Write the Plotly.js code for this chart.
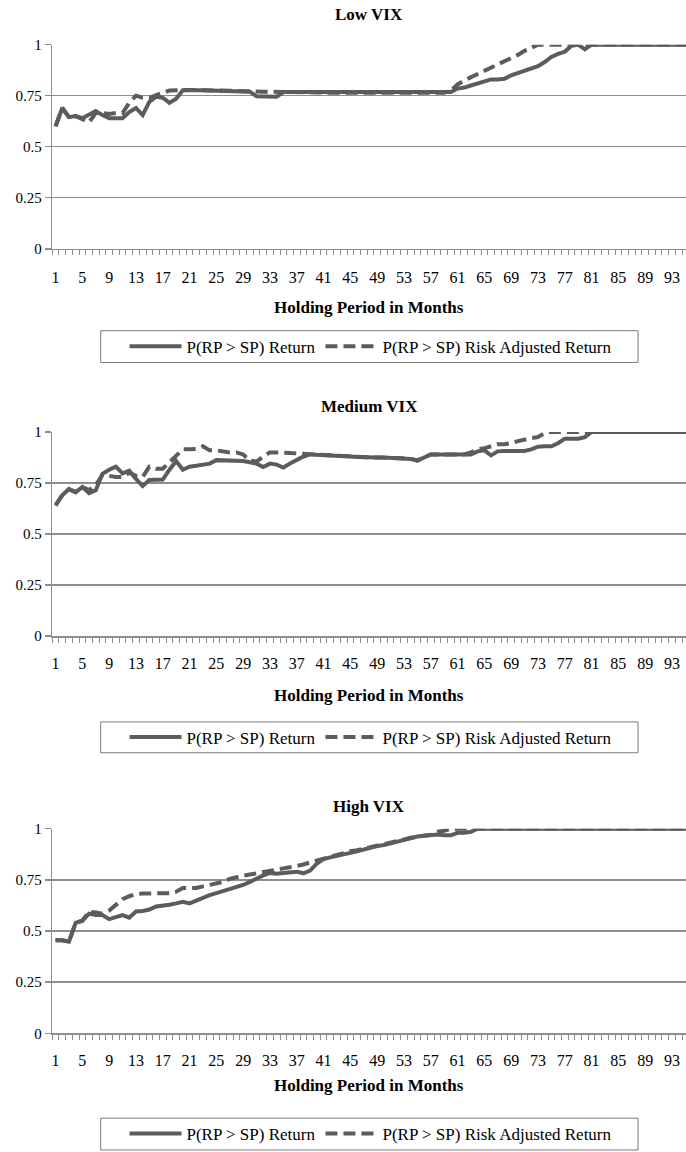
<!DOCTYPE html>
<html><head><meta charset="utf-8">
<script src="https://cdn.plot.ly/plotly-3.0.1.min.js"></script>
<style>body{margin:0;background:#fff}#chart{width:686px;height:1152px}</style>
</head><body><div id="chart"></div>
<script>
const months = [1,2,3,4,5,6,7,8,9,10,11,12,13,14,15,16,17,18,19,20,21,22,23,24,25,26,27,28,29,30,31,32,33,34,35,36,37,38,39,40,41,42,43,44,45,46,47,48,49,50,51,52,53,54,55,56,57,58,59,60,61,62,63,64,65,66,67,68,69,70,71,72,73,74,75,76,77,78,79,80,81,82,83,84,85,86,87,88,89,90,91,92,93,94,95,96];
const tickLabels = [1,5,9,13,17,21,25,29,33,37,41,45,49,53,57,61,65,69,73,77,81,85,89,93];
const panelTitles = ["Low VIX","Medium VIX","High VIX"];
const seriesNames = ["P(RP > SP) Return","P(RP > SP) Risk Adjusted Return"];

const lowRet = [0.60,0.69,0.645,0.65,0.64,0.66,0.675,0.655,0.64,0.64,0.64,0.67,0.69,0.655,0.72,0.745,0.74,0.715,0.735,0.777,
0.778,0.778,0.777,0.776,0.775,0.775,0.775,0.774,0.772,0.77,0.747,0.745,0.745,0.745,0.768,0.768,0.767,0.767,0.766,0.766,
0.765,0.765,0.765,0.765,0.765,0.765,0.765,0.765,0.765,0.765,0.765,0.765,0.765,0.765,0.765,0.765,0.765,0.765,0.765,0.768,
0.785,0.79,0.80,0.81,0.82,0.83,0.83,0.833,0.85,0.86,0.87,0.88,0.895,0.915,0.94,0.955,0.965,0.995,1.0,0.977,
1,1,1,1,1,1,1,1,1,1,1,1,1,1,1,1];
const lowAdj = [0.60,0.69,0.645,0.65,0.635,0.62,0.665,0.665,0.66,0.665,0.665,0.715,0.75,0.74,0.74,0.755,0.765,0.775,0.778,0.777,
0.778,0.778,0.777,0.776,0.775,0.775,0.775,0.774,0.772,0.77,0.77,0.77,0.77,0.77,0.768,0.768,0.767,0.767,0.766,0.766,
0.765,0.765,0.765,0.765,0.765,0.765,0.765,0.765,0.765,0.765,0.765,0.765,0.765,0.765,0.765,0.765,0.765,0.765,0.765,0.775,
0.805,0.825,0.84,0.855,0.875,0.89,0.905,0.92,0.935,0.95,0.97,0.985,1,1,1,1,1,1,1,1,
1,1,1,1,1,1,1,1,1,1,1,1,1,1,1,1];
const medRet = [0.64,0.69,0.72,0.705,0.73,0.70,0.715,0.795,0.815,0.83,0.797,0.81,0.77,0.735,0.765,0.767,0.767,0.815,0.858,0.815,
0.83,0.835,0.84,0.845,0.862,0.862,0.861,0.86,0.858,0.852,0.845,0.828,0.845,0.84,0.826,0.845,0.865,0.88,0.89,0.889,
0.888,0.886,0.884,0.882,0.88,0.878,0.876,0.875,0.875,0.875,0.874,0.873,0.871,0.868,0.86,0.875,0.89,0.89,0.89,0.89,
0.89,0.89,0.89,0.905,0.91,0.885,0.905,0.907,0.907,0.907,0.907,0.915,0.928,0.93,0.93,0.945,0.967,0.967,0.967,0.975,
1,1,1,1,1,1,1,1,1,1,1,1,1,1,1,1];
const medAdj = [0.64,0.69,0.72,0.705,0.73,0.715,0.74,0.79,0.785,0.78,0.78,0.80,0.785,0.78,0.83,0.82,0.82,0.85,0.885,0.915,
0.915,0.917,0.93,0.91,0.91,0.905,0.90,0.90,0.89,0.86,0.855,0.88,0.90,0.90,0.90,0.897,0.895,0.893,0.89,0.889,
0.888,0.886,0.884,0.882,0.88,0.878,0.876,0.875,0.875,0.875,0.874,0.873,0.871,0.868,0.86,0.875,0.89,0.89,0.89,0.89,
0.89,0.89,0.90,0.915,0.92,0.93,0.94,0.94,0.945,0.955,0.965,0.97,0.975,0.995,1,1,1,1,1,1,
1,1,1,1,1,1,1,1,1,1,1,1,1,1,1,1];
const highRet = [0.455,0.455,0.448,0.54,0.55,0.585,0.578,0.578,0.558,0.568,0.578,0.565,0.595,0.598,0.605,0.62,0.622,0.628,0.635,0.643,
0.635,0.65,0.662,0.675,0.685,0.695,0.703,0.712,0.725,0.74,0.758,0.772,0.784,0.78,0.783,0.788,0.79,0.782,0.795,0.83,
0.852,0.86,0.866,0.872,0.882,0.89,0.90,0.91,0.915,0.92,0.928,0.935,0.945,0.955,0.962,0.965,0.967,0.972,0.968,0.968,
0.98,0.98,0.985,1,1,1,1,1,1,1,1,1,1,1,1,1,1,1,1,1,
1,1,1,1,1,1,1,1,1,1,1,1,1,1,1,1];
const highAdj = [0.455,0.455,0.448,0.54,0.55,0.595,0.59,0.585,0.60,0.625,0.655,0.67,0.68,0.683,0.685,0.685,0.685,0.685,0.692,0.71,
0.71,0.71,0.718,0.725,0.73,0.74,0.755,0.765,0.77,0.776,0.783,0.79,0.794,0.80,0.806,0.812,0.818,0.825,0.835,0.845,
0.855,0.865,0.872,0.88,0.89,0.895,0.902,0.91,0.915,0.922,0.93,0.937,0.947,0.956,0.963,0.966,0.97,0.985,0.99,1,
1,1,1,1,1,1,1,1,1,1,1,1,1,1,1,1,1,1,1,1,
1,1,1,1,1,1,1,1,1,1,1,1,1,1,1,1];

const panels = [[lowRet, lowAdj],[medRet, medAdj],[highRet, highAdj]];

// ---- layout geometry (pixels) ----
const W = 686, H = 1152;
const FONT = '"Liberation Serif","Times New Roman",Times,serif';
const LINE = '#5c5c5c', GRID = '#8e8e8e';
const geo = [
  {titleY: 15, top: 45, bottom: 250.5, labLen: 14, xTitleY: 310, legTop: 333, legBot: 365},
  {titleY: 409, top: 435, bottom: 640.5, labLen: 12, xTitleY: 700, legTop: 727, legBot: 758},
  {titleY: 812, top: 834.5, bottom: 1040.5, labLen: 12, xTitleY: 1093, legTop: 1126, legBot: 1158}
];
const plotLeft = 52.2, catW = 6.7;
const xDomain = [plotLeft / W, 1];
const xRange = [0.5, 0.5 + (W - plotLeft) / catW];
const py = p => 1 - p / H;

const data = [];
const layout = {
  width: W, height: H, margin: {l: 0, r: 0, t: 0, b: 0},
  paper_bgcolor: '#fff', plot_bgcolor: '#fff',
  font: {family: FONT, color: '#000', size: 16},
  showlegend: true, annotations: [], shapes: []
};

const minorVals = [];
for (let i = 0; i <= months.length; i++) minorVals.push(months[0] - 0.5 + i);

panels.forEach((pair, k) => {
  const g = geo[k];
  const sfx = k === 0 ? '' : String(k + 1);
  const legName = 'legend' + sfx;
  pair.forEach((vals, j) => {
    data.push({
      type: 'scatter', mode: 'lines', x: months, y: vals,
      xaxis: 'x' + sfx, yaxis: 'y' + sfx,
      name: seriesNames[j], legend: legName,
      line: {color: LINE, width: 4, dash: j === 0 ? 'solid' : '12px,6px'},
      hoverinfo: 'skip'
    });
  });
  layout['xaxis' + sfx] = {
    domain: xDomain, range: xRange, anchor: 'y' + sfx,
    tickmode: 'array', tickvals: tickLabels, ticktext: tickLabels.map(String),
    ticks: 'outside', ticklen: g.labLen, tickcolor: 'rgba(0,0,0,0)',
    minor: {tickmode: 'array', tickvals: minorVals, ticks: 'outside', ticklen: 5, tickcolor: GRID, tickwidth: 1, showgrid: false},
    showgrid: false, zeroline: false,
    showline: true, linecolor: GRID, linewidth: 1.5,
    tickfont: {family: FONT, size: 16, color: '#000'}, fixedrange: true
  };
  layout['yaxis' + sfx] = {
    domain: [py(g.bottom), py(g.top)], range: [0, 1], anchor: 'x' + sfx,
    tickmode: 'array', tickvals: [0, 0.25, 0.5, 0.75, 1], ticktext: ['0', '0.25', '0.5', '0.75', '1'],
    ticks: 'outside', ticklen: 6, tickcolor: GRID, tickwidth: 1.5,
    showgrid: true, gridcolor: GRID, gridwidth: 1.5, zeroline: false,
    showline: true, linecolor: GRID, linewidth: 1.5,
    tickfont: {family: FONT, size: 15, color: '#000'}, fixedrange: true
  };
  const legMid = (g.legTop + g.legBot) / 2;
  layout[legName] = {
    orientation: 'h', x: 371 / W, xanchor: 'center', y: py(legMid), yanchor: 'middle',
    borderwidth: 0, bgcolor: 'rgba(0,0,0,0)', itemwidth: 52,
    font: {family: FONT, size: 17, color: '#000'}, traceorder: 'normal'
  };
  layout.shapes.push({
    type: 'rect', xref: 'paper', yref: 'paper',
    x0: 100.7 / W, x1: 638 / W, y0: py(g.legBot), y1: py(g.legTop),
    line: {color: '#7a7a7a', width: 1}, fillcolor: 'rgba(0,0,0,0)', layer: 'below'
  });
  const cx = (plotLeft + W) / 2 / W;
  layout.annotations.push({
    text: '<b>' + panelTitles[k] + '</b>', xref: 'paper', yref: 'paper',
    x: cx, y: py(g.titleY), xanchor: 'center', yanchor: 'middle', showarrow: false,
    font: {family: FONT, size: 17, color: '#000'}
  });
  layout.annotations.push({
    text: '<b>Holding Period in Months</b>', xref: 'paper', yref: 'paper',
    x: cx, y: py(g.xTitleY), xanchor: 'center', yanchor: 'middle', showarrow: false,
    font: {family: FONT, size: 17, color: '#000'}
  });
});

Plotly.newPlot('chart', data, layout, {staticPlot: true});
</script></body></html>
